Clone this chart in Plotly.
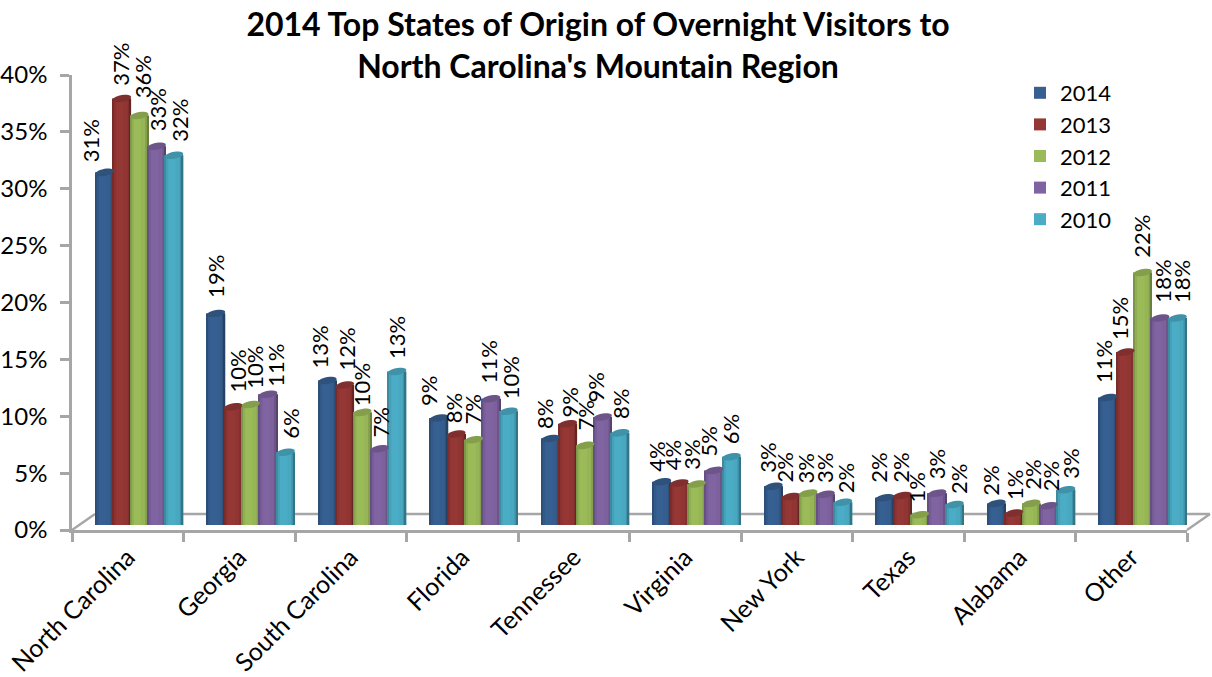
import math
import plotly.graph_objects as go

CATEGORIES = ["North Carolina", "Georgia", "South Carolina", "Florida", "Tennessee",
              "Virginia", "New York", "Texas", "Alabama", "Other"]
YEARS = ["2014", "2013", "2012", "2011", "2010"]
Y_TICKS = [0, 5, 10, 15, 20, 25, 30, 35, 40]
Y_TICK_LABELS = ["0%", "5%", "10%", "15%", "20%", "25%", "30%", "35%", "40%"]

V2014 = [31.0, 18.6, 12.7, 9.4, 7.6, 3.8, 3.4, 2.4, 1.9, 11.2]
V2013 = [37.5, 10.4, 12.3, 8.0, 8.9, 3.7, 2.5, 2.6, 1.05, 15.2]
V2012 = [36.0, 10.6, 9.9, 7.5, 7.0, 3.6, 2.8, 0.9, 1.9, 22.2]
V2011 = [33.3, 11.5, 6.7, 11.1, 9.5, 4.8, 2.7, 2.8, 1.7, 18.2]
V2010 = [32.5, 6.4, 13.5, 10.0, 8.1, 6.0, 2.0, 1.8, 3.1, 18.2]
SERIES = [V2014, V2013, V2012, V2011, V2010]

# Printed data labels (whole percentages, as shown on the chart)
L2014 = [31, 19, 13, 9, 8, 4, 3, 2, 2, 11]
L2013 = [37, 10, 12, 8, 9, 4, 2, 2, 1, 15]
L2012 = [36, 10, 10, 7, 7, 3, 3, 1, 2, 22]
L2011 = [33, 11, 7, 11, 9, 5, 3, 3, 2, 18]
L2010 = [32, 6, 13, 10, 8, 6, 2, 2, 3, 18]
LABELS = [L2014, L2013, L2012, L2011, L2010]

# Label placement relative to the top of its bar, in pixels
NUDGE_X = [[-11, 3, -5, -8, -3, -2, -3, -3, -3, -2],
           [2, 7, 5, 0, 5, -3, -3, 1, 3, -3],
           [6, 7, 3, 2, 3, -3, 0, 0, 4, 2],
           [4, 11, 4, 0, -4, -3, 2, 2, 5, 5],
           [9, 8, 3, 5, 4, 2, 5, 7, 8, 7]]
NUDGE_Y = [[10, 16, 12, 12, 10, 10, 14, 15, 8, 15],
           [13, 14, 15, 11, 6, 13, 14, 13, 13, 12],
           [17, 16, 6, 15, 15, 14, 10, 12, 14, 15],
           [15, 7, 11, 15, 14, 14, 11, 14, 14, 15],
           [13, 13, 12, 12, 14, 12, 9, 10, 11, 15]]
LABEL_DX, LABEL_DY = -3, -1

COLORS = ["#376092", "#953735", "#9BBB59", "#8064A2", "#4BACC6"]
FONT = "Lato, Carlito, Calibri, sans-serif"
GRAY = "#A6A6A6"
W, H = 1212, 677


def px(x):
    return x / W


def py(y):
    return 1 - y / H


def shade(color, f):
    r, g, b = (int(color[k:k + 2], 16) for k in (1, 3, 5))
    return "#%02x%02x%02x" % (min(255, round(r * f)), min(255, round(g * f)), min(255, round(b * f)))


BAR_START, BAR_STEP, BAR_W = -0.39, 0.156, 0.165
BANDS = [(0, .08, .8), (.08, .2, .93), (.2, .6, 1.0), (.6, .82, .97), (.82, .93, .85), (.93, 1, .68)]
PX_PER_CAT, PX_PER_UNIT = 111.5, 11.375


def ellipse(cx, v, b_px=3.5, tilt_px=1.5):
    a = BAR_W / 2
    pts = []
    for k in range(24):
        t = 2 * math.pi * k / 24
        x = cx + a * math.cos(t)
        y = v + (b_px * math.sin(t) + tilt_px * math.cos(t)) / PX_PER_UNIT
        pts.append(f"{x:.4f},{y:.4f}")
    return "M" + "L".join(pts) + "Z"


fig = go.Figure()
# Carries the visible axes (ticks and category labels)
fig.add_trace(go.Scatter(x=CATEGORIES, y=V2014, mode="markers", marker=dict(opacity=0),
                         showlegend=False, hoverinfo="skip", xaxis="x", yaxis="y"))

shapes = [
    dict(type="line", xref="paper", yref="paper", x0=px(72), x1=px(95), y0=py(530), y1=py(514)),
    dict(type="line", xref="paper", yref="paper", x0=px(95), x1=px(1210), y0=py(514), y1=py(514)),
    dict(type="line", xref="paper", yref="paper", x0=px(1187), x1=px(1210), y0=py(530), y1=py(514)),
]
for s in shapes:
    s.update(line=dict(color=GRAY, width=2.5), layer="below")

annotations = []
for j, (year, vals, labs, color) in enumerate(zip(YEARS, SERIES, LABELS, COLORS)):
    off = BAR_START + j * BAR_STEP
    fig.add_trace(go.Bar(name=year, x=CATEGORIES, y=vals, offset=off, width=BAR_W,
                         marker=dict(color=color, line=dict(width=0)),
                         xaxis="x2", yaxis="y2", hovertemplate="%{x}<br>" + year + ": %{y}%<extra></extra>"))
    for t0, t1, f in BANDS:
        fig.add_trace(go.Bar(x=CATEGORIES, y=vals, offset=off + t0 * BAR_W, width=(t1 - t0) * BAR_W,
                             marker=dict(color=shade(color, f), line=dict(width=0)),
                             showlegend=False, hoverinfo="skip", xaxis="x2", yaxis="y2"))
    for i, (v, lab) in enumerate(zip(vals, labs)):
        cx = i + off + BAR_W / 2
        shapes.append(dict(type="path", path=ellipse(cx, 0), xref="x2", yref="y2", layer="below",
                           fillcolor=shade(color, .95), line=dict(width=0)))
        shapes.append(dict(type="path", path=ellipse(cx, v), xref="x2", yref="y2", layer="above",
                           fillcolor=shade(color, .85), line=dict(width=0)))
        annotations.append(dict(text=f"{lab}%", x=cx, y=v, xref="x2", yref="y2", showarrow=False,
                                textangle=-90, xanchor="center", yanchor="bottom", borderpad=0,
                                xshift=NUDGE_X[j][i] + LABEL_DX, yshift=NUDGE_Y[j][i] + LABEL_DY,
                                font=dict(family=FONT, size=22, color="#000000")))

axis_common = dict(showgrid=False, zeroline=False, automargin=False)
fig.update_layout(
    width=W, height=H, margin=dict(l=0, r=0, t=0, b=0, autoexpand=False), autosize=False,
    paper_bgcolor="white", plot_bgcolor="rgba(0,0,0,0)",
    barmode="overlay", shapes=shapes, annotations=annotations,
    font=dict(family=FONT, color="#000000"),
    title=dict(text="2014 Top States of Origin of Overnight Visitors to<br>North Carolina's Mountain Region",
               x=598 / W, xanchor="center", y=py(36), yanchor="middle",
               font=dict(family=FONT, size=32, color="#000000", weight="bold")),
    xaxis=dict(domain=[px(72), px(1187)], type="category", categoryorder="array", categoryarray=CATEGORIES,
               range=[-0.5, 9.5], tickson="boundaries", ticks="outside", ticklen=9, tickwidth=2.5,
               tickcolor=GRAY, showline=True, linecolor=GRAY, linewidth=2.5, tickangle=-45,
               tickfont=dict(family=FONT, size=25, color="#000000"), anchor="y", **axis_common),
    yaxis=dict(domain=[py(530), py(75)], range=[0, 40], tickmode="array", tickvals=Y_TICKS, ticktext=Y_TICK_LABELS,
               ticks="outside", ticklen=9, tickwidth=2.5, tickcolor=GRAY, showline=True, linecolor=GRAY,
               linewidth=2.5, ticklabelstandoff=8, tickfont=dict(family=FONT, size=24, color="#000000"),
               anchor="x", **axis_common),
    xaxis2=dict(domain=[px(83), px(1198)], type="category", categoryorder="array", categoryarray=CATEGORIES,
                range=[-0.5, 9.5], visible=False, anchor="y2", **axis_common),
    yaxis2=dict(domain=[py(525), py(70)], range=[0, 40], visible=False, anchor="x2", **axis_common),
    legend=dict(x=px(1020), y=py(72), xanchor="left", yanchor="top", bgcolor="rgba(0,0,0,0)",
                font=dict(family=FONT, size=22, color="#000000"), tracegroupgap=0),
)

fig.write_html("out.html", config={"displayModeBar": False},
               post_script="document.body.style.margin='0';document.body.style.overflow='hidden';")
